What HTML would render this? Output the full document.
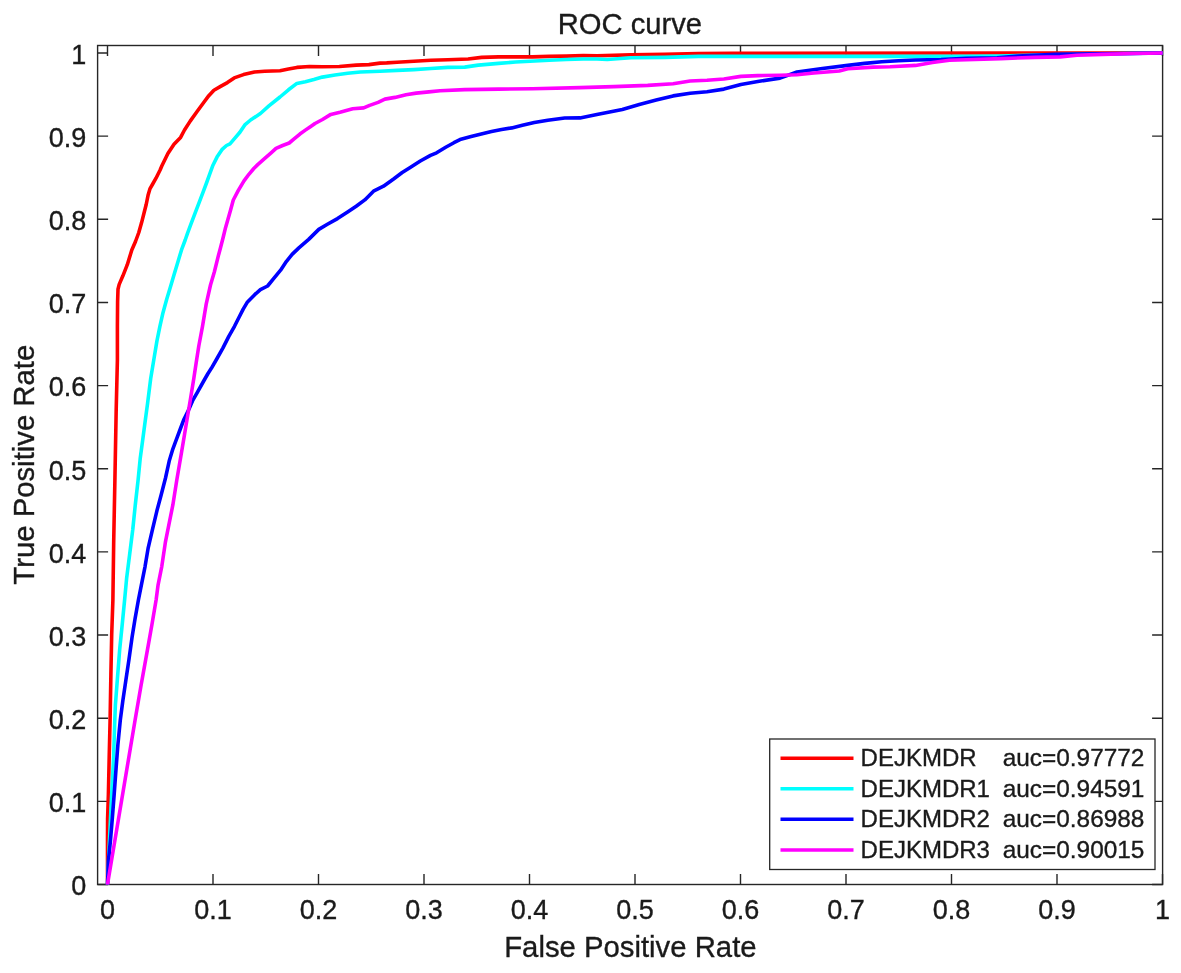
<!DOCTYPE html>
<html><head><meta charset="utf-8"><title>ROC curve</title>
<style>
html,body{margin:0;padding:0;background:#fff;}
svg{display:block;}
text{font-family:"Liberation Sans", Arial, Helvetica, sans-serif;fill:#1a1a1a;stroke:#1a1a1a;stroke-width:0.35px;}
</style></head><body>
<svg width="1181" height="973" viewBox="0 0 1181 973">
<rect x="0" y="0" width="1181" height="973" fill="#fff"/>
<g stroke="#262626" stroke-width="1.4" fill="none">
<rect x="97.6" y="45.5" width="1065.00" height="839.00"/>
<path d="M107.50,884.5v-10.5M107.50,45.5v10.5M97.6,884.50h10.5M1162.6,884.50h-10.5M213.00,884.5v-10.5M213.00,45.5v10.5M97.6,801.35h10.5M1162.6,801.35h-10.5M318.50,884.5v-10.5M318.50,45.5v10.5M97.6,718.20h10.5M1162.6,718.20h-10.5M424.00,884.5v-10.5M424.00,45.5v10.5M97.6,635.05h10.5M1162.6,635.05h-10.5M529.50,884.5v-10.5M529.50,45.5v10.5M97.6,551.90h10.5M1162.6,551.90h-10.5M635.00,884.5v-10.5M635.00,45.5v10.5M97.6,468.75h10.5M1162.6,468.75h-10.5M740.50,884.5v-10.5M740.50,45.5v10.5M97.6,385.60h10.5M1162.6,385.60h-10.5M846.00,884.5v-10.5M846.00,45.5v10.5M97.6,302.45h10.5M1162.6,302.45h-10.5M951.50,884.5v-10.5M951.50,45.5v10.5M97.6,219.30h10.5M1162.6,219.30h-10.5M1057.00,884.5v-10.5M1057.00,45.5v10.5M97.6,136.15h10.5M1162.6,136.15h-10.5M1162.50,884.5v-10.5M1162.50,45.5v10.5M97.6,53.00h10.5M1162.6,53.00h-10.5"/>
</g>
<defs><clipPath id="c"><rect x="97.6" y="45.5" width="1065.0" height="839.0"/></clipPath></defs>
<g clip-path="url(#c)" fill="none" stroke-width="3.6" stroke-linejoin="round" stroke-linecap="round">
<polyline stroke="#ff0000" points="107.5,884.5 107.5,840 107.6,818.6 108.4,794 109.2,757 110.1,720 110.9,674 111.7,634.5 112.9,600 113.7,541.6 114.9,480 116.2,409.3 117.4,360 117.4,326.3 117.6,301.7 118,289.3 119.2,284.4 122.9,275.8 127.3,264.7 131.8,250 135.5,241.5 138.8,232.5 141.6,222.6 144.1,212.7 146.2,204.5 148.2,194.7 149.9,188.9 152.7,184 156,178.2 160.1,170 161.9,165.8 167.9,153.5 174,144.2 180.6,137.4 184.5,130 190.2,121.1 196.9,111.8 203.7,102.5 208.8,95.7 213.9,90.2 220.6,86.4 227.4,82.6 234.2,77.9 243.5,74.6 254.5,72 264.7,71.2 280,70.7 288.5,69.1 296.9,67.4 309.6,66.5 322.3,66.8 339.3,66.5 356.2,65.1 368.9,64.6 380,63.1 386.7,62.9 397,62.2 413.9,61.2 430.9,60.3 447.8,59.8 468.1,59 481.7,57.4 498.6,56.9 532.5,56.9 549.4,56.4 566.3,56.1 583.3,55.6 597,55.8 630.9,54.9 664.7,54.4 698.6,53.5 732.5,53.2 1162.5,53"/>
<polyline stroke="#00ffff" points="107.5,884.5 108.5,860 110.5,818.6 111.7,794 113.6,757 114.8,720 115.4,704.8 117.3,680.1 119.7,649.3 122.2,624.7 124.6,600 126.6,578.6 129.7,554 132.8,529.3 135.3,504.7 138.1,480 140.2,458.6 142.7,440.1 145.1,421.7 147.6,403.2 150.7,378.5 154.1,358 156.9,341.1 159.9,326.3 163,312.7 166.7,299.2 170.4,286.9 174.1,274.5 177.8,262.2 181.5,249.9 185.2,240 187.4,233.6 191.1,223.7 194.8,213.8 199.1,202.7 202.8,192.9 206.5,183 209.6,174.4 212.7,165.8 217,157.1 221.9,149.7 226.5,145.5 230,143.8 234.9,138.1 239.9,132.3 244.8,124.9 250.6,120 252.8,118.6 260.4,113.5 268.9,105.9 280,97 288.5,89.8 296.9,83.4 305.4,81.8 313.9,79.6 322.3,77.1 335,75 347.7,73.3 360.4,72 380,71.2 397,70.4 413.9,69.6 430.9,68.5 447.8,67.4 464.7,67.1 478.3,65.1 498.6,63.4 515.5,62 549.3,60.3 566.3,59.5 583.3,59 597,59 607.2,59.5 630.9,57.8 664.7,57.4 681.7,56.9 698.6,56.4 966.3,56.4 1000,56 1051.7,54.9 1162.5,53"/>
<polyline stroke="#0000ff" points="107.5,884.5 108.5,860 110.5,840 112.3,818.6 114.2,794 116,769.3 117.9,744.7 120.3,720 122.8,701.1 125.9,680.1 129,659.2 132.1,637 135.1,618.5 138.4,600 141.4,584.8 145.1,566.3 148.2,547.8 152.5,529.3 156.9,510.8 161.2,494.8 165.5,478 169.2,461.1 172.9,448.8 176.6,438.9 180.3,429 184,419.2 188.9,409.3 192.6,400.7 197.5,392.1 203.7,381 208,373.5 211.5,368.1 217.3,358 223,347.9 228.8,336.4 234.5,326.3 238.8,317.7 243.2,309.1 247.5,301.9 254.7,294.7 260.4,289.6 267.6,286 273.4,278.8 280.6,270.2 286.3,261.6 292.1,254.4 298.6,248.1 308.7,239.4 318.8,229.4 327.4,224.3 337.5,218.6 347.6,212.1 356.2,206.3 364.8,199.9 373.5,191.2 383.5,186.2 393.6,179 402.2,172.5 410.2,167.4 420.3,161 430.5,155.4 436.6,152.8 445.7,147.3 453.9,142.7 460,139.6 471.1,136.6 481.3,134 491.5,131.5 501.6,129.5 511.8,127.9 522.4,125.3 534.3,122.6 547.8,120.2 564.7,118 580,117.9 596.9,114.5 622.3,109.4 639.3,104.4 656.2,100.1 673.1,95.9 690.1,93.3 707,91.7 723.9,89.1 740.9,84.4 757.8,81.5 780,78.1 797,72 822.4,68.5 847.8,65.4 864.7,63.4 881.7,61.7 898.6,60.7 915.5,60 941,59.5 966.3,58.3 997,57.8 1017.8,56.1 1055,54.4 1162.5,53"/>
<polyline stroke="#ff00ff" points="107.5,884.5 135.1,720 140.9,686.3 148.2,645.6 151.9,624.7 156.1,600 158.1,584.8 161.8,566.3 165.5,541.6 169.2,523.2 172.9,504.7 176.8,480 181.5,452.5 184.6,434 187.7,415.5 190.8,397 193.8,378.5 196.6,360 198.8,346 202.5,326.3 206.2,304.1 210.5,285 214.4,271.7 218.7,254.4 220.7,247.1 223.2,237.3 225.6,227.4 228.1,218.8 230.6,210.1 233.3,200 238.2,190.7 244,180.9 248.9,174.3 253.8,168.5 258,164.4 264.5,158.7 271.1,152.9 276,148.4 282.6,145.5 289.2,143 294.1,138.9 299.9,134 305.7,129.9 310,127 315,123.5 322.5,119.5 330.8,114.4 340,112.2 352.7,108.8 363.7,107.9 369.6,105.4 378.1,102.4 384.9,99.1 395,97.4 406,94.8 416.2,93.1 428.9,91.9 440,90.8 464.7,89.6 498.5,89.1 532.4,88.8 580,87.6 613.9,86.6 647.7,85.4 673.1,83.7 690.1,81 707,80.3 723.9,79 740.9,76.4 757.8,75.6 780,75.2 797,74.7 813.9,73 839.3,71 847.8,68.8 873.2,67.1 890.1,66.8 915.5,65.4 932.5,62.5 949.4,60.3 966.3,59.8 1000.9,58.6 1034.7,57.4 1060.1,56.9 1077,55.2 1102.5,54.4 1136.4,53.5 1162.5,53"/>
</g>
<text x="107.50" y="919.4" font-size="27" text-anchor="middle">0</text>
<text x="86.3" y="895.30" font-size="27" text-anchor="end">0</text>
<text x="213.00" y="919.4" font-size="27" text-anchor="middle">0.1</text>
<text x="86.3" y="812.15" font-size="27" text-anchor="end">0.1</text>
<text x="318.50" y="919.4" font-size="27" text-anchor="middle">0.2</text>
<text x="86.3" y="729.00" font-size="27" text-anchor="end">0.2</text>
<text x="424.00" y="919.4" font-size="27" text-anchor="middle">0.3</text>
<text x="86.3" y="645.85" font-size="27" text-anchor="end">0.3</text>
<text x="529.50" y="919.4" font-size="27" text-anchor="middle">0.4</text>
<text x="86.3" y="562.70" font-size="27" text-anchor="end">0.4</text>
<text x="635.00" y="919.4" font-size="27" text-anchor="middle">0.5</text>
<text x="86.3" y="479.55" font-size="27" text-anchor="end">0.5</text>
<text x="740.50" y="919.4" font-size="27" text-anchor="middle">0.6</text>
<text x="86.3" y="396.40" font-size="27" text-anchor="end">0.6</text>
<text x="846.00" y="919.4" font-size="27" text-anchor="middle">0.7</text>
<text x="86.3" y="313.25" font-size="27" text-anchor="end">0.7</text>
<text x="951.50" y="919.4" font-size="27" text-anchor="middle">0.8</text>
<text x="86.3" y="230.10" font-size="27" text-anchor="end">0.8</text>
<text x="1057.00" y="919.4" font-size="27" text-anchor="middle">0.9</text>
<text x="86.3" y="146.95" font-size="27" text-anchor="end">0.9</text>
<text x="1162.50" y="919.4" font-size="27" text-anchor="middle">1</text>
<text x="86.3" y="63.80" font-size="27" text-anchor="end">1</text>
<text x="630.4" y="957" font-size="29.3" text-anchor="middle">False Positive Rate</text>
<text transform="translate(33.9,464.7) rotate(-90)" font-size="29.3" text-anchor="middle">True Positive Rate</text>
<text x="629.9" y="33.5" font-size="29.2" text-anchor="middle">ROC curve</text>
<rect x="769.7" y="739" width="385.3" height="130.5" fill="#fff" stroke="#262626" stroke-width="1.3"/>
<line x1="780.5" y1="758.2" x2="853.5" y2="758.2" stroke="#ff0000" stroke-width="3.6"/>
<text x="860.6" y="766.1" font-size="24">DEJKMDR</text>
<text x="1002.7" y="766.1" font-size="24.4">auc=0.97772</text>
<line x1="780.5" y1="788.8" x2="853.5" y2="788.8" stroke="#00ffff" stroke-width="3.6"/>
<text x="860.6" y="796.7" font-size="24">DEJKMDR1</text>
<text x="1002.7" y="796.7" font-size="24.4">auc=0.94591</text>
<line x1="780.5" y1="819.2" x2="853.5" y2="819.2" stroke="#0000ff" stroke-width="3.6"/>
<text x="860.6" y="827.2" font-size="24">DEJKMDR2</text>
<text x="1002.7" y="827.2" font-size="24.4">auc=0.86988</text>
<line x1="780.5" y1="850.0" x2="853.5" y2="850.0" stroke="#ff00ff" stroke-width="3.6"/>
<text x="860.6" y="857.8" font-size="24">DEJKMDR3</text>
<text x="1002.7" y="857.8" font-size="24.4">auc=0.90015</text>
</svg>
</body></html>
